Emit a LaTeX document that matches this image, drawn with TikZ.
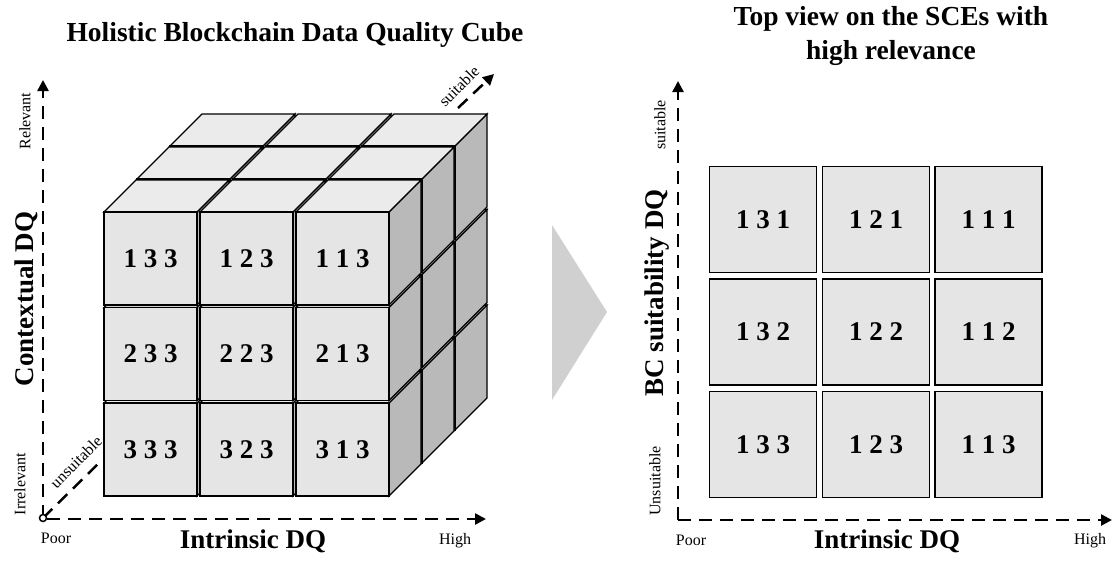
\documentclass[tikz,border=0pt]{standalone}
\usepackage{fontspec}
\setmainfont{Liberation Serif}
\usetikzlibrary{arrows.meta}
\definecolor{frontc}{RGB}{229,229,229}
\definecolor{topc}{RGB}{235,235,235}
\definecolor{sidec}{RGB}{185,185,185}
\definecolor{chevc}{RGB}{208,208,208}
\tikzset{
  face/.style={draw=black, line width=1.3pt, line join=miter},
  big/.style={font=\fontsize{27}{33}\selectfont\bfseries, inner sep=0pt},
  ttl/.style={font=\fontsize{27.5}{34}\selectfont\bfseries, inner sep=0pt},
  small/.style={font=\fontsize{16}{19}\selectfont, inner sep=0pt},
  num/.style={font=\fontsize{27}{32}\selectfont\bfseries, inner sep=0pt},
  axisline/.style={line width=2.5pt, dash pattern=on 13pt off 8pt, black},
  tip/.style={-{Triangle[length=11pt,width=11pt]}},
  cell/.style={draw=black, line width=1.3pt, fill=frontc, minimum width=107pt, minimum height=106pt, inner sep=0pt, font=\fontsize{27}{32}\selectfont\bfseries}
}
\begin{document}
\begin{tikzpicture}[x=1pt,y=-1pt]
\useasboundingbox (0,0) rectangle (1113,563);

% titles
\node[ttl] (t1) at (295,35) {Holistic Blockchain Data Quality Cube};
\node[ttl, align=center] (t2) at (891,36) {Top view on the SCEs with\\high relevance};

% cube
\foreach \z in {2,1,0}{
 \foreach \r in {0,1,2}{
  \foreach \c in {0,1,2}{
   \pgfmathsetmacro\X{104+96*\c+33*\z}
   \pgfmathsetmacro\Y{496-95.5*\r-33*\z}
   \filldraw[face,fill=sidec] ({\X+93},{\Y}) -- ++(32,-32) -- ++(0,-93) -- ++(-32,32) -- cycle;
   \filldraw[face,fill=topc] ({\X},{\Y-93}) -- ++(93,0) -- ++(32,-32) -- ++(-93,0) -- cycle;
   \filldraw[face,fill=frontc] ({\X},{\Y}) rectangle ++(93,-93);
  }}}

\node[num] (c133) at (150.5,258.5) {1 3 3};
\node[num] (c123) at (246.5,258.5) {1 2 3};
\node[num] (c113) at (342.5,258.5) {1 1 3};
\node[num] (c233) at (150.5,354) {2 3 3};
\node[num] (c223) at (246.5,354) {2 2 3};
\node[num] (c213) at (342.5,354) {2 1 3};
\node[num] (c333) at (150.5,449.5) {3 3 3};
\node[num] (c323) at (246.5,449.5) {3 2 3};
\node[num] (c313) at (342.5,449.5) {3 1 3};

% left axes
\coordinate (O) at (43,518);
\coordinate (Ltop) at (43,80);
\coordinate (Lright) at (486,519);
\coordinate (Ldiag) at (100,462);
\coordinate (Sa) at (458,108);
\coordinate (Sb) at (494,74);
\draw[axisline,tip] (O) -- (Ltop);
\draw[axisline,tip] ([xshift=4pt]O |- Lright) -- (Lright);
\draw[axisline] (O) -- (Ldiag);
\draw[axisline,tip] (Sa) -- (Sb);
\filldraw[fill=white, draw=black, line width=1.5pt] (O) circle (3.5pt);

\node[small, rotate=90] (rel) at (25,121) {Relevant};
\node[small, rotate=90] (irr) at (20,484) {Irrelevant};
\node[big, rotate=90] (ctx) at (26,299) {Contextual DQ};
\node[small, rotate=45] (uns) at (76,462) {unsuitable};
\node[small, rotate=45] (sui) at (459,86) {suitable};
\node[small] (poor1) at (56,538) {Poor};
\node[big] (idq1) at (253,541) {Intrinsic DQ};
\node[small] (high1) at (455,541) {High};

% chevron
\fill[chevc] (552,225) -- (607,312) -- (552,400) -- cycle;

% right grid
\node[cell] (g131) at (763,219.5) {1 3 1};
\node[cell] (g121) at (876,219.5) {1 2 1};
\node[cell] (g111) at (988.5,219.5) {1 1 1};
\node[cell] (g132) at (763,332) {1 3 2};
\node[cell] (g122) at (876,332) {1 2 2};
\node[cell] (g112) at (988.5,332) {1 1 2};
\node[cell] (g133) at (763,444.5) {1 3 3};
\node[cell] (g123) at (876,444.5) {1 2 3};
\node[cell] (g113) at (988.5,444.5) {1 1 3};

% right axes
\coordinate (R0) at (678,520);
\coordinate (Rtop) at (678,81);
\coordinate (Rright) at (1112,520);
\draw[axisline,tip] (R0) -- (Rtop);
\draw[axisline,tip] (R0) -- (Rright);

\node[small, rotate=90] (rsu) at (660,125) {suitable};
\node[small, rotate=90] (run) at (655,481) {Unsuitable};
\node[big, rotate=90] (bcs) at (657,293) {BC suitability DQ};
\node[small] (poor2) at (691,540) {Poor};
\node[big] (idq2) at (887,541) {Intrinsic DQ};
\node[small] (high2) at (1090,541) {High};
\end{tikzpicture}
\end{document}
